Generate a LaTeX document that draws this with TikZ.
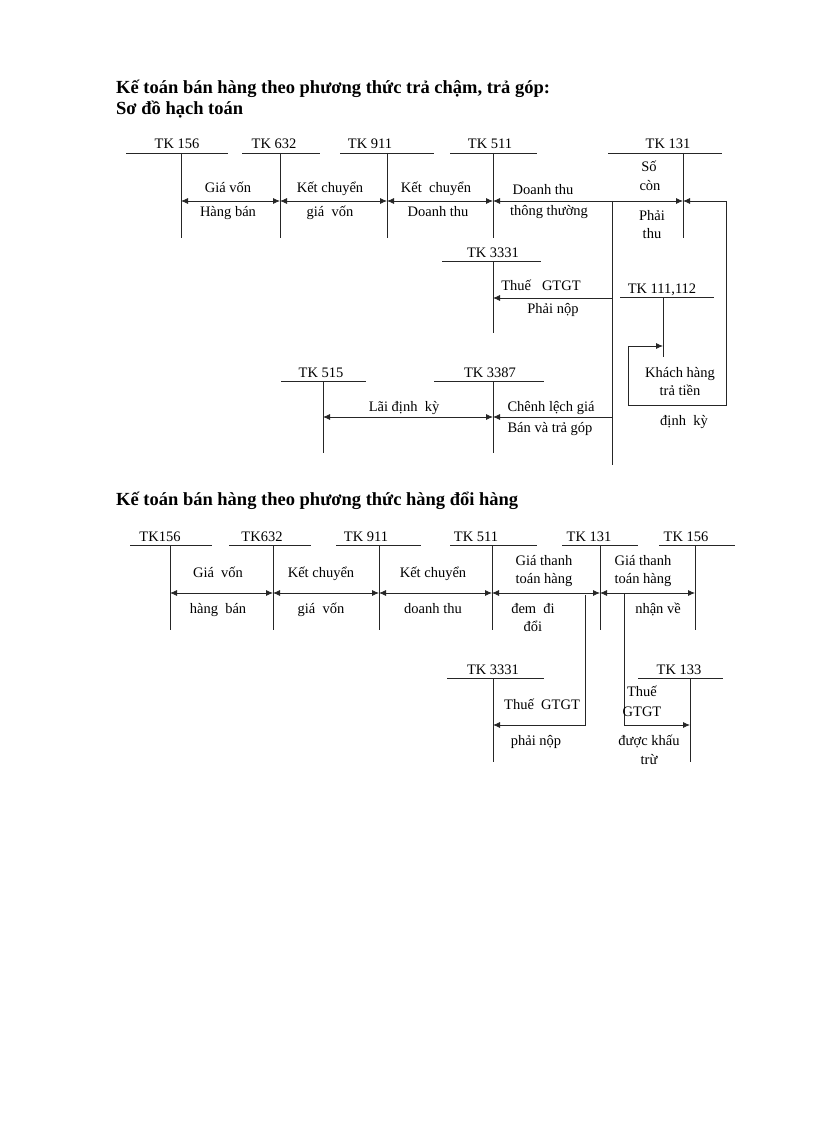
\documentclass[tikz,border=0pt]{standalone}
\usepackage{fontspec}
\setmainfont{Liberation Serif}
\usetikzlibrary{arrows.meta}
\begin{document}
\begin{tikzpicture}[x=1pt,y=-1pt,
  ln/.style={line width=0.8pt,black!85},
  ar/.style={ln,-{Latex[length=7pt,width=6pt]}},
  dar/.style={ln,{Latex[length=7pt,width=6pt]}-{Latex[length=7pt,width=6pt]}},
  lab/.style={font=\fontsize{14.5}{16}\selectfont,inner sep=0pt,anchor=base},
  ttl/.style={font=\bfseries\fontsize{18.5}{20}\selectfont,inner sep=0pt,anchor=base west}]
\useasboundingbox (0,0) rectangle (816,1123);
\node[ttl] (t1) at (116,94) {Kế toán bán hàng theo phương thức trả chậm, trả góp:};
\node[ttl] (t2) at (116,115) {Sơ đồ hạch toán};
\node[ttl] (t3) at (116,505) {Kế toán bán hàng theo phương thức hàng đổi hàng};
% ---------- Diagram 1 ----------
\foreach \n/\a/\b/\x/\lx/\y/\yb/\t in {
  a/126/228/181/177/153/238/{TK 156},
  b/242/320/280/274/153/238/{TK 632},
  c/340/434/387/370/153/238/{TK 911},
  d/450/537/493/490/153/238/{TK 511},
  e/608/722/683/668/153/238/{TK 131},
  f/442/541/493/493/261/333/{TK 3331},
  g/620/714/663/662/297/357/{TK 111,112},
  h/434/544/493/490/381/453/{TK 3387},
  i/281/366/323/321/381/453/{TK 515}}{
  \draw[ln] (\a,\y) -- (\b,\y);
  \coordinate (\n top) at (\x,\y);
  \coordinate (\n bot) at (\x,\yb);
  \draw[ln] (\n top) -- (\n bot);
  \node[lab] (\n lab) at (\lx,\y-4) {\t};
}
\coordinate (a1) at (181,201); \coordinate (b1) at (280,201);
\coordinate (c1) at (387,201); \coordinate (d1) at (493,201);
\coordinate (e1) at (683,201); \coordinate (s1) at (612,201);
\coordinate (s2) at (612,465); \coordinate (s3) at (612,298);
\coordinate (f1) at (493,298); \coordinate (s4) at (612,417);
\coordinate (h1) at (493,417); \coordinate (i1) at (323,417);
\coordinate (r1) at (726,201); \coordinate (r2) at (726,405);
\coordinate (r3) at (628,405); \coordinate (r4) at (628,346);
\coordinate (g1) at (663,346);
\draw[dar] (a1) -- (b1);
\draw[dar] (b1) -- (c1);
\draw[dar] (c1) -- (d1);
\draw[ar] (s1) -- (d1);
\draw[ar] (s1) -- (e1);
\draw[ln] (s1) -- (s2);
\draw[ar] (s3) -- (f1);
\draw[ar] (s4) -- (h1);
\draw[dar] (i1) -- (h1);
\draw[ar] (r1) -- (e1);
\draw[ar] (r1) -- (r2) -- (r3) -- (r4) -- (g1);
\node[lab] (l1) at (228,193) {Giá vốn};
\node[lab] (l2) at (228,217) {Hàng bán};
\node[lab] (l3) at (330,193) {Kết chuyển};
\node[lab] (l4) at (330,217) {giá \ vốn};
\node[lab] (l5) at (436,193) {Kết \ chuyển};
\node[lab] (l6) at (438,217) {Doanh thu};
\node[lab] (l7) at (543,195) {Doanh thu};
\node[lab] (l8) at (549,216) {thông thường};
\node[lab] (l9) at (649,172) {Số};
\node[lab] (l10) at (650,191) {còn};
\node[lab] (l11) at (652,221) {Phải};
\node[lab] (l12) at (652,239) {thu};
\node[lab] (l13) at (541,290) {Thuế \ \ GTGT};
\node[lab] (l14) at (553,313) {Phải nộp};
\node[lab] (l15) at (680,377) {Khách hàng};
\node[lab] (l16) at (680,395) {trả tiền};
\node[lab] (l17) at (684,425) {định \ kỳ};
\node[lab] (l18) at (404,411) {Lãi định \ kỳ};
\node[lab] (l19) at (551,411) {Chênh lệch giá};
\node[lab] (l20) at (550,432) {Bán và trả góp};
% ---------- Diagram 2 ----------
\foreach \n/\a/\b/\x/\lx/\y/\yb/\t in {
  A/130/212/170/160/545/630/{TK156},
  B/229/311/273/262/545/630/{TK632},
  C/336/421/379/366/545/630/{TK 911},
  D/450/537/492/476/545/630/{TK 511},
  E/562/638/600/589/545/630/{TK 131},
  F/659/735/695/686/545/630/{TK 156},
  G/447/544/493/493/678/762/{TK 3331},
  H/638/723/690/679/678/762/{TK 133}}{
  \draw[ln] (\a,\y) -- (\b,\y);
  \coordinate (\n top) at (\x,\y);
  \coordinate (\n bot) at (\x,\yb);
  \draw[ln] (\n top) -- (\n bot);
  \node[lab] (\n lab) at (\lx,\y-4) {\t};
}
\coordinate (A1) at (170,593); \coordinate (B1) at (273,593);
\coordinate (C1) at (379,593); \coordinate (D1) at (492,593);
\coordinate (E1) at (600,593); \coordinate (F1) at (695,593);
\coordinate (u1) at (585,595); \coordinate (u2) at (585,725);
\coordinate (G1) at (493,725);
\coordinate (v1) at (624,593); \coordinate (v2) at (624,725);
\coordinate (H1) at (690,725);
\draw[dar] (A1) -- (B1);
\draw[dar] (B1) -- (C1);
\draw[dar] (C1) -- (D1);
\draw[dar] (D1) -- (E1);
\draw[dar] (E1) -- (F1);
\draw[ar] (u1) -- (u2) -- (G1);
\draw[ar] (v1) -- (v2) -- (H1);
\node[lab] (m1) at (218,577) {Giá \ vốn};
\node[lab] (m2) at (218,613) {hàng \ bán};
\node[lab] (m3) at (321,577) {Kết chuyển};
\node[lab] (m4) at (321,613) {giá \ vốn};
\node[lab] (m5) at (433,577) {Kết chuyển};
\node[lab] (m6) at (433,613) {doanh thu};
\node[lab] (m7) at (544,565) {Giá thanh};
\node[lab] (m8) at (544,583) {toán hàng};
\node[lab] (m9) at (533,613) {đem \ đi};
\node[lab] (m10) at (533,631) {đổi};
\node[lab] (m11) at (643,565) {Giá thanh};
\node[lab] (m12) at (643,583) {toán hàng};
\node[lab] (m13) at (658,613) {nhận về};
\node[lab] (m14) at (542,709) {Thuế \ GTGT};
\node[lab] (m15) at (536,745) {phải nộp};
\node[lab] (m16) at (642,696) {Thuế};
\node[lab] (m17) at (642,716) {GTGT};
\node[lab] (m18) at (649,745) {được khấu};
\node[lab] (m19) at (649,764) {trừ};
\end{tikzpicture}
\end{document}
